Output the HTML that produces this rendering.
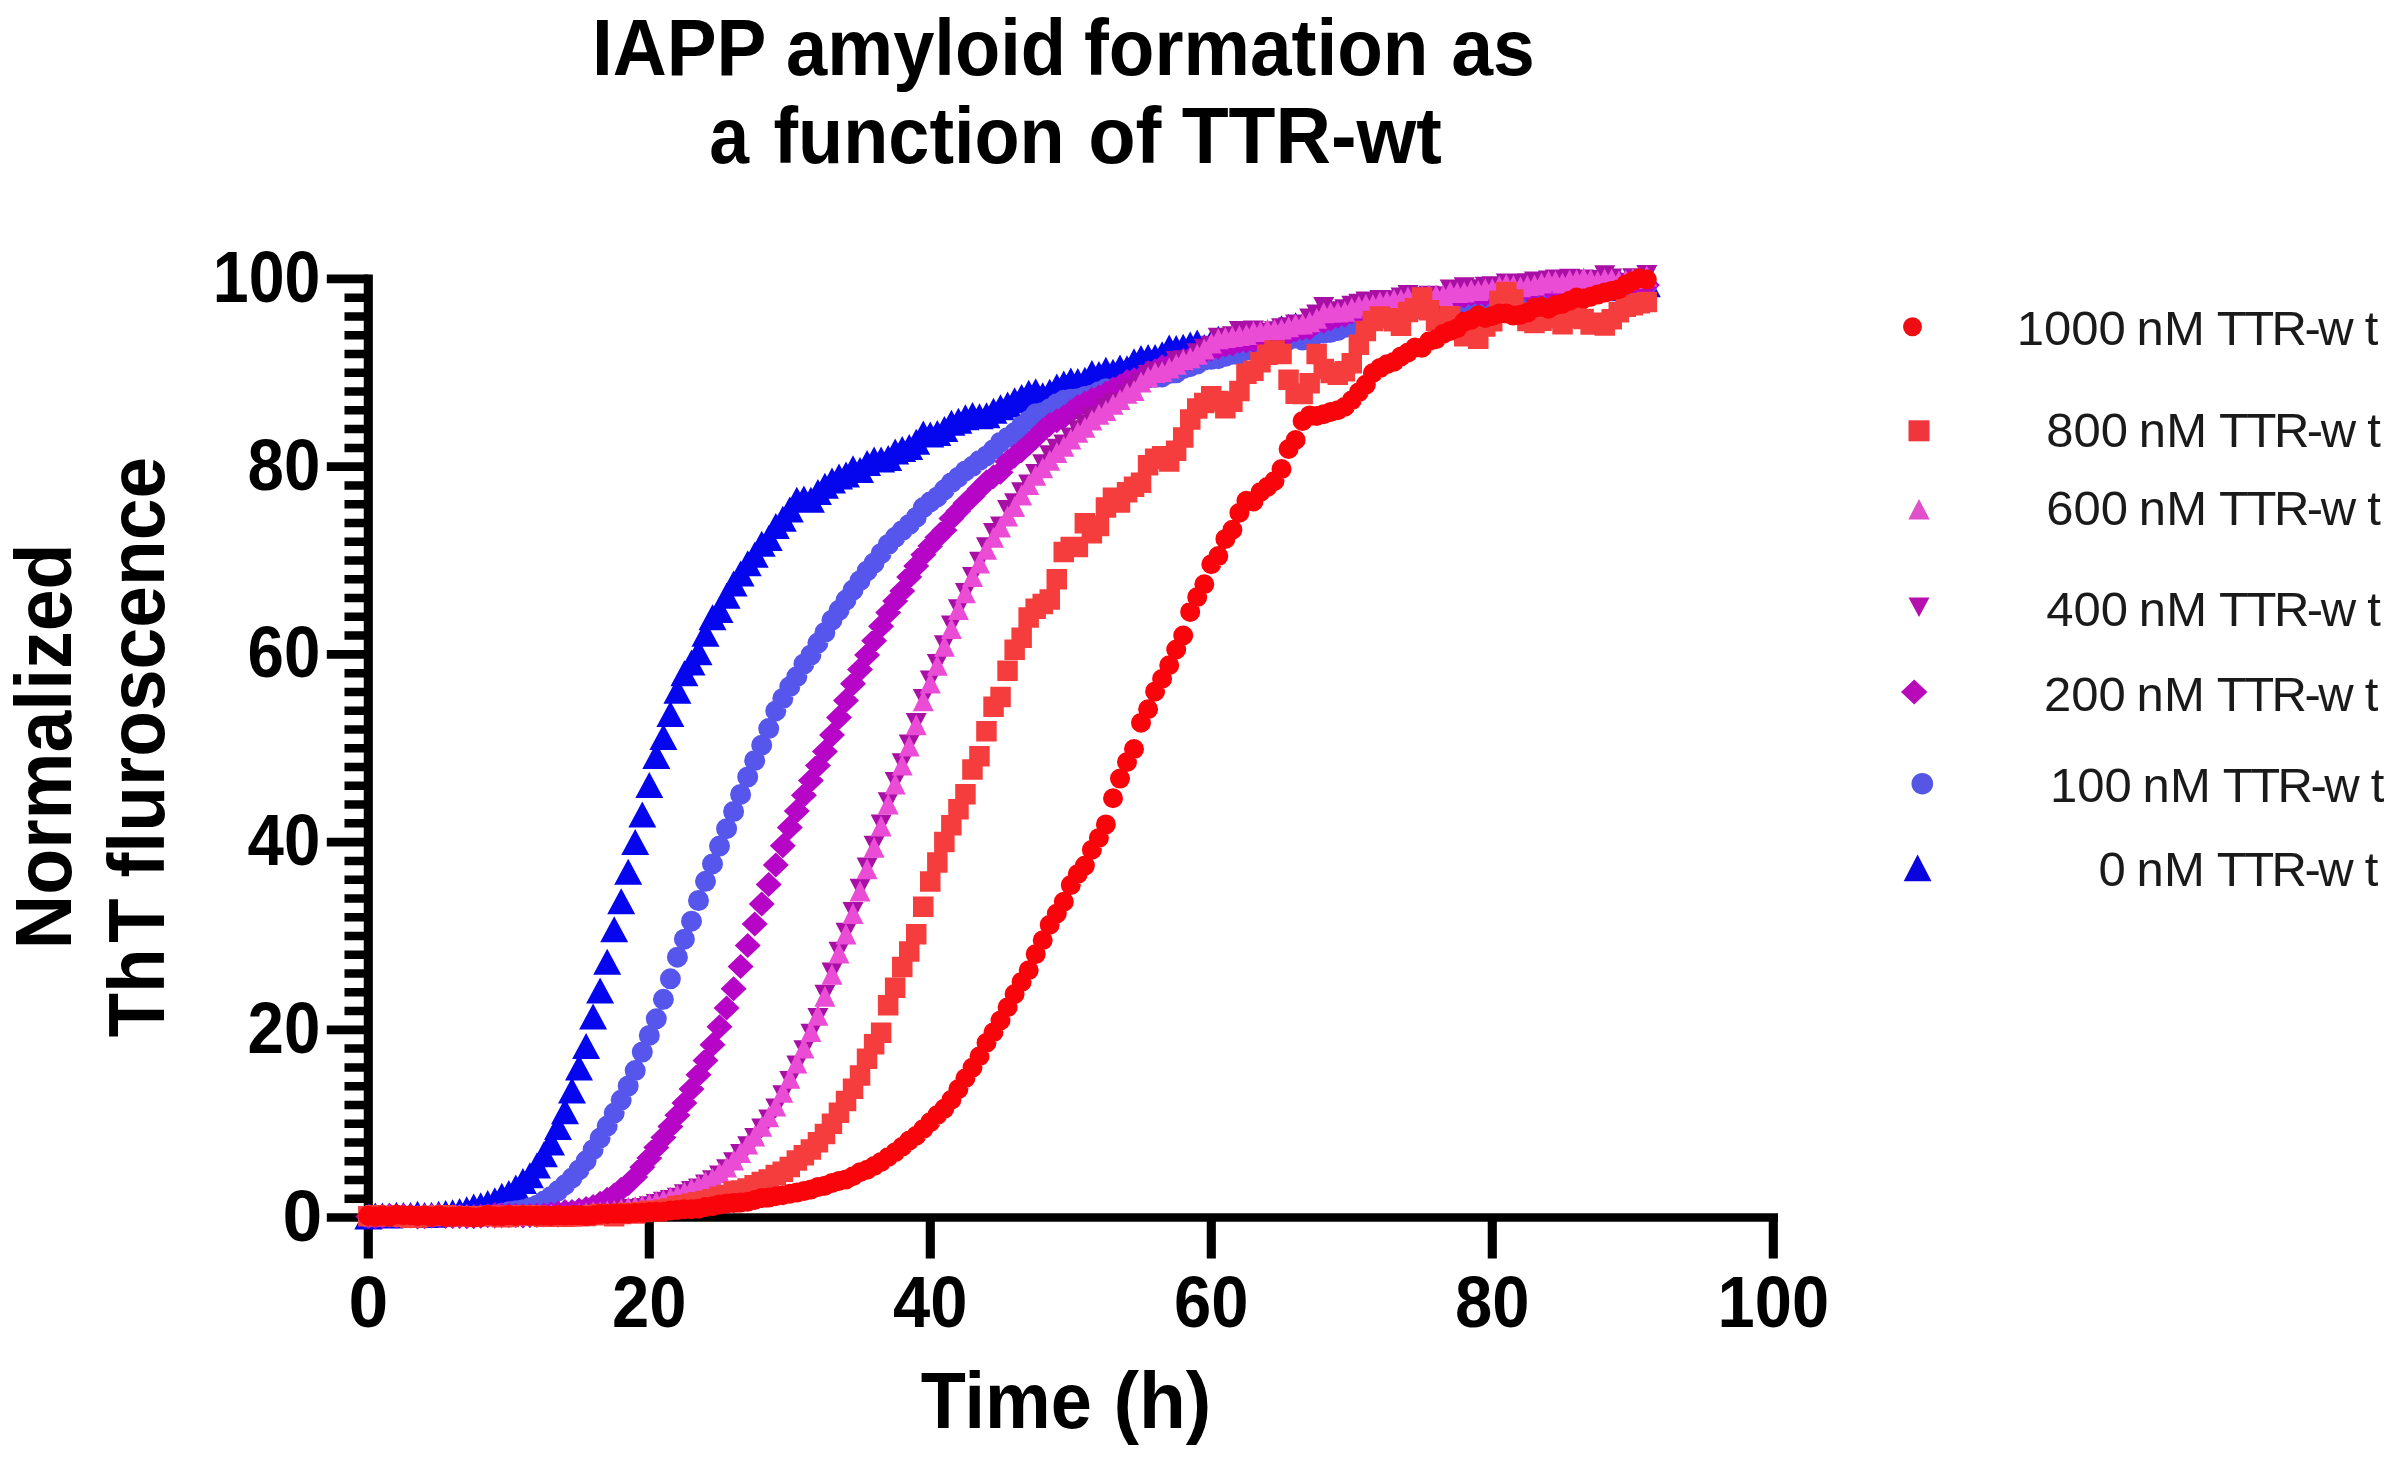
<!DOCTYPE html>
<html lang="en"><head><meta charset="utf-8"><title>IAPP amyloid formation as a function of TTR-wt</title>
<style>html,body{margin:0;padding:0;background:#fff}body{width:2404px;height:1459px;overflow:hidden}svg{display:block}text{font-family:"Liberation Sans",Arial,Helvetica,sans-serif}.b{font-weight:700;fill:#000}.l{fill:#1a1a1a}</style></head><body>
<svg width="2404" height="1459" viewBox="0 0 2404 1459">
<rect width="2404" height="1459" fill="#fff"/>
<g stroke="#000" stroke-width="9.1" fill="none" stroke-linecap="butt">
<path d="M368.3 274.6V1258.6"/>
<path stroke-width="8.5" d="M326.8 1217.6H1778"/>
<path stroke-width="8.6" d="M326.8 1029.9H368.3M326.8 842.1H368.3M326.8 654.4H368.3M326.8 466.6H368.3M326.8 278.9H368.3"/>
<path d="M649.3 1217.6V1258.6M930.3 1217.6V1258.6M1211.3 1217.6V1258.6M1492.3 1217.6V1258.6M1773.3 1217.6V1258.6"/>
<path stroke-width="8.5" d="M344.5 1198.8H368.3M344.5 1180.1H368.3M344.5 1161.3H368.3M344.5 1142.5H368.3M344.5 1123.7H368.3M344.5 1105H368.3M344.5 1086.2H368.3M344.5 1067.4H368.3M344.5 1048.6H368.3M344.5 1011.1H368.3M344.5 992.3H368.3M344.5 973.5H368.3M344.5 954.8H368.3M344.5 936H368.3M344.5 917.2H368.3M344.5 898.4H368.3M344.5 879.7H368.3M344.5 860.9H368.3M344.5 823.3H368.3M344.5 804.6H368.3M344.5 785.8H368.3M344.5 767H368.3M344.5 748.2H368.3M344.5 729.5H368.3M344.5 710.7H368.3M344.5 691.9H368.3M344.5 673.2H368.3M344.5 635.6H368.3M344.5 616.8H368.3M344.5 598.1H368.3M344.5 579.3H368.3M344.5 560.5H368.3M344.5 541.7H368.3M344.5 523H368.3M344.5 504.2H368.3M344.5 485.4H368.3M344.5 447.9H368.3M344.5 429.1H368.3M344.5 410.3H368.3M344.5 391.5H368.3M344.5 372.8H368.3M344.5 354H368.3M344.5 335.2H368.3M344.5 316.4H368.3M344.5 297.7H368.3"/>
</g>
<g stroke="none">
<path fill="#0505ee" d="M368.3 1203.4l14 26h-28zM375.3 1202.5l14 26h-28zM382.4 1202.4l14 26h-28zM389.4 1202.6l14 26h-28zM396.4 1201.8l14 26h-28zM403.4 1202l14 26h-28zM410.5 1201.9l14 26h-28zM417.5 1200.8l14 26h-28zM424.5 1201.9l14 26h-28zM431.5 1201.8l14 26h-28zM438.6 1200.7l14 26h-28zM445.6 1199.9l14 26h-28zM452.6 1199.3l14 26h-28zM459.6 1197.9l14 26h-28zM466.7 1196.3l14 26h-28zM473.7 1193.6l14 26h-28zM480.7 1192.3l14 26h-28zM487.7 1189.9l14 26h-28zM494.8 1187.2l14 26h-28zM501.8 1182.8l14 26h-28zM508.8 1180l14 26h-28zM515.8 1174.4l14 26h-28zM522.9 1168l14 26h-28zM529.9 1162.2l14 26h-28zM536.9 1152.6l14 26h-28zM543.9 1141.3l14 26h-28zM551 1129.5l14 26h-28zM558 1113.9l14 26h-28zM565 1098.3l14 26h-28zM572 1077.5l14 26h-28zM579 1054.4l14 26h-28zM586.1 1032.9l14 26h-28zM593.1 1003.4l14 26h-28zM600.1 977.4l14 26h-28zM607.2 948.8l14 26h-28zM614.2 916.3l14 26h-28zM621.2 888.3l14 26h-28zM628.2 858.8l14 26h-28zM635.2 829.1l14 26h-28zM642.3 801.4l14 26h-28zM649.3 771.9l14 26h-28zM656.3 742.9l14 26h-28zM663.4 724.1l14 26h-28zM670.4 701l14 26h-28zM677.4 677.8l14 26h-28zM684.4 660.2l14 26h-28zM691.5 649.6l14 26h-28zM698.5 639.2l14 26h-28zM705.5 620.7l14 26h-28zM712.5 604.2l14 26h-28zM719.5 596.9l14 26h-28zM726.6 582.7l14 26h-28zM733.6 570.6l14 26h-28zM740.6 560.4l14 26h-28zM747.7 550.3l14 26h-28zM754.7 541.7l14 26h-28zM761.7 530.8l14 26h-28zM768.7 525l14 26h-28zM775.8 512.9l14 26h-28zM782.8 505.8l14 26h-28zM789.8 496.5l14 26h-28zM796.8 486.7l14 26h-28zM803.9 485.4l14 26h-28zM810.9 486.7l14 26h-28zM817.9 478.9l14 26h-28zM824.9 472.7l14 26h-28zM832 467.5l14 26h-28zM839 463.6l14 26h-28zM846 461.4l14 26h-28zM853 455.3l14 26h-28zM860 457l14 26h-28zM867.1 450.1l14 26h-28zM874.1 446.4l14 26h-28zM881.1 446.5l14 26h-28zM888.2 444.9l14 26h-28zM895.2 438.4l14 26h-28zM902.2 435.9l14 26h-28zM909.2 434.1l14 26h-28zM916.2 428.8l14 26h-28zM923.3 420.6l14 26h-28zM930.3 421.6l14 26h-28zM937.3 420l14 26h-28zM944.4 416.1l14 26h-28zM951.4 409.7l14 26h-28zM958.4 407.7l14 26h-28zM965.4 404.2l14 26h-28zM972.5 402l14 26h-28zM979.5 403.3l14 26h-28zM986.5 402.2l14 26h-28zM993.5 397.8l14 26h-28zM1000.5 394.2l14 26h-28zM1007.6 391.6l14 26h-28zM1014.6 387.2l14 26h-28zM1021.6 383.9l14 26h-28zM1028.7 379.7l14 26h-28zM1035.7 378.3l14 26h-28zM1042.7 382.2l14 26h-28zM1049.7 378.7l14 26h-28zM1056.8 373.5l14 26h-28zM1063.8 370.5l14 26h-28zM1070.8 367.4l14 26h-28zM1077.8 368.1l14 26h-28zM1084.9 366.7l14 26h-28zM1091.9 359.9l14 26h-28zM1098.9 360.9l14 26h-28zM1105.9 356.7l14 26h-28zM1113 358.7l14 26h-28zM1120 354.4l14 26h-28zM1127 355.2l14 26h-28zM1134 348.3l14 26h-28zM1141 345l14 26h-28zM1148.1 343.9l14 26h-28zM1155.1 343.9l14 26h-28zM1162.1 341.2l14 26h-28zM1169.2 334.5l14 26h-28zM1176.2 335l14 26h-28zM1183.2 333.8l14 26h-28zM1190.2 331.5l14 26h-28zM1197.2 329.5l14 26h-28zM1204.3 334l14 26h-28zM1211.3 329.2l14 26h-28zM1218.3 325.7l14 26h-28zM1225.4 327.5l14 26h-28zM1232.4 325.8l14 26h-28zM1239.4 323.9l14 26h-28zM1246.4 324.6l14 26h-28zM1253.5 323.2l14 26h-28zM1260.5 321.6l14 26h-28zM1267.5 321.7l14 26h-28zM1274.5 319.2l14 26h-28zM1281.5 315.3l14 26h-28zM1288.6 313.9l14 26h-28zM1295.6 312.2l14 26h-28zM1302.6 312.6l14 26h-28zM1309.7 308.6l14 26h-28zM1316.7 304.7l14 26h-28zM1323.7 307.4l14 26h-28zM1330.7 303.7l14 26h-28zM1337.8 300.1l14 26h-28zM1344.8 303.9l14 26h-28zM1351.8 301.3l14 26h-28zM1358.8 302.6l14 26h-28zM1365.9 299.4l14 26h-28zM1372.9 296.1l14 26h-28zM1379.9 293.9l14 26h-28zM1386.9 294.1l14 26h-28zM1394 294l14 26h-28zM1401 291.8l14 26h-28zM1408 291.8l14 26h-28zM1415 287.9l14 26h-28zM1422 289.9l14 26h-28zM1429.1 285.3l14 26h-28zM1436.1 287.2l14 26h-28zM1443.1 289.3l14 26h-28zM1450.2 290.3l14 26h-28zM1457.2 291.5l14 26h-28zM1464.2 283.1l14 26h-28zM1471.2 285.8l14 26h-28zM1478.2 287.1l14 26h-28zM1485.3 286.4l14 26h-28zM1492.3 281l14 26h-28zM1499.3 282.1l14 26h-28zM1506.3 285.6l14 26h-28zM1513.4 277.9l14 26h-28zM1520.4 280l14 26h-28zM1527.4 281.8l14 26h-28zM1534.5 277.5l14 26h-28zM1541.5 279l14 26h-28zM1548.5 274.9l14 26h-28zM1555.5 274l14 26h-28zM1562.5 273.3l14 26h-28zM1569.6 275.3l14 26h-28zM1576.6 274.8l14 26h-28zM1583.6 276.9l14 26h-28zM1590.7 272.5l14 26h-28zM1597.7 272.8l14 26h-28zM1604.7 275.2l14 26h-28zM1611.7 274.6l14 26h-28zM1618.8 269.4l14 26h-28zM1625.8 272.5l14 26h-28zM1632.8 270.2l14 26h-28zM1639.8 271.4l14 26h-28zM1646.8 271.2l14 26h-28z"/>
<path fill="none" stroke="#5656ec" stroke-width="21" stroke-linecap="round" d="M368.3 1217.5h0M375.3 1217.3h0M382.4 1216.3h0M389.4 1216.1h0M396.4 1216.8h0M403.4 1216.7h0M410.5 1217.3h0M417.5 1217.2h0M424.5 1216.6h0M431.5 1217.1h0M438.6 1216.5h0M445.6 1215.6h0M452.6 1216.9h0M459.6 1215.7h0M466.7 1216.2h0M473.7 1216.5h0M480.7 1216.2h0M487.7 1215h0M494.8 1215h0M501.8 1213.3h0M508.8 1211.8h0M515.8 1210.8h0M522.9 1209.8h0M529.9 1207.7h0M536.9 1205.3h0M543.9 1201.1h0M551 1196.4h0M558 1190.8h0M565 1184.8h0M572 1178.1h0M579 1169.9h0M586.1 1160.8h0M593.1 1149.7h0M600.1 1138.1h0M607.2 1126.1h0M614.2 1113.1h0M621.2 1100.1h0M628.2 1086h0M635.2 1070.6h0M642.3 1052h0M649.3 1035.4h0M656.3 1018.8h0M663.4 999.3h0M670.4 978.8h0M677.4 957.2h0M684.4 939.2h0M691.5 921.2h0M698.5 900.5h0M705.5 881.3h0M712.5 863.9h0M719.5 846.1h0M726.6 828.7h0M733.6 811.5h0M740.6 794.4h0M747.7 777h0M754.7 760.5h0M761.7 745.2h0M768.7 728.6h0M775.8 710.9h0M782.8 698.5h0M789.8 686.7h0M796.8 676.7h0M803.9 664h0M810.9 655h0M817.9 643.1h0M824.9 632.4h0M832 620.2h0M839 610.3h0M846 600.1h0M853 590.1h0M860 580.7h0M867.1 570.9h0M874.1 563h0M881.1 553.5h0M888.2 544.5h0M895.2 537.3h0M902.2 530.7h0M909.2 524.5h0M916.2 517.4h0M923.3 507.6h0M930.3 501.8h0M937.3 496.9h0M944.4 489.8h0M951.4 482.7h0M958.4 477.2h0M965.4 470.9h0M972.5 466.3h0M979.5 460.4h0M986.5 455.9h0M993.5 449.7h0M1000.5 442.2h0M1007.6 437.4h0M1014.6 432.6h0M1021.6 426h0M1028.7 420.5h0M1035.7 413.8h0M1042.7 412.5h0M1049.7 408.7h0M1056.8 403.7h0M1063.8 400.3h0M1070.8 399.2h0M1077.8 398.7h0M1084.9 396.5h0M1091.9 395.1h0M1098.9 391.7h0M1105.9 388.7h0M1113 388.7h0M1120 387.2h0M1127 384.8h0M1134 384.1h0M1141 380.2h0M1148.1 377.8h0M1155.1 377.3h0M1162.1 376.9h0M1169.2 373.6h0M1176.2 372.8h0M1183.2 368.7h0M1190.2 366.7h0M1197.2 364.1h0M1204.3 360.2h0M1211.3 359.3h0M1218.3 358.7h0M1225.4 356.3h0M1232.4 354.3h0M1239.4 354h0M1246.4 350h0M1253.5 346.9h0M1260.5 345.5h0M1267.5 343.3h0M1274.5 344.3h0M1281.5 342.8h0M1288.6 339.9h0M1295.6 338h0M1302.6 340.1h0M1309.7 336.6h0M1316.7 333.9h0M1323.7 333.1h0M1330.7 332.3h0M1337.8 330.6h0M1344.8 327.6h0M1351.8 324.8h0M1358.8 324.2h0M1365.9 322.1h0M1372.9 318.2h0M1379.9 318.4h0M1386.9 317.1h0M1394 314.6h0M1401 312.6h0M1408 311.6h0M1415 309.5h0M1422 307h0M1429.1 307.1h0M1436.1 304.6h0M1443.1 304.9h0M1450.2 302.5h0M1457.2 302.3h0M1464.2 301.7h0M1471.2 303.1h0M1478.2 300.2h0M1485.3 297.9h0M1492.3 297.3h0M1499.3 296h0M1506.3 295.6h0M1513.4 296.2h0M1520.4 296.5h0M1527.4 297.3h0M1534.5 294.6h0M1541.5 296.8h0M1548.5 296.8h0M1555.5 294h0M1562.5 290h0M1569.6 290.2h0M1576.6 290.2h0M1583.6 287.3h0M1590.7 288.3h0M1597.7 288.3h0M1604.7 287.4h0M1611.7 288.3h0M1618.8 289h0M1625.8 287.5h0M1632.8 287.4h0M1639.8 286.2h0M1646.8 285.3h0"/>
<path fill="#b705c8" d="M368.3 1204l13 12.5l-13 12.5l-13 -12.5zM375.3 1204.2l13 12.5l-13 12.5l-13 -12.5zM382.4 1203.9l13 12.5l-13 12.5l-13 -12.5zM389.4 1203l13 12.5l-13 12.5l-13 -12.5zM396.4 1203.7l13 12.5l-13 12.5l-13 -12.5zM403.4 1203.2l13 12.5l-13 12.5l-13 -12.5zM410.5 1203.6l13 12.5l-13 12.5l-13 -12.5zM417.5 1204.6l13 12.5l-13 12.5l-13 -12.5zM424.5 1204.2l13 12.5l-13 12.5l-13 -12.5zM431.5 1203.6l13 12.5l-13 12.5l-13 -12.5zM438.6 1203.1l13 12.5l-13 12.5l-13 -12.5zM445.6 1204l13 12.5l-13 12.5l-13 -12.5zM452.6 1203.9l13 12.5l-13 12.5l-13 -12.5zM459.6 1204.1l13 12.5l-13 12.5l-13 -12.5zM466.7 1204.3l13 12.5l-13 12.5l-13 -12.5zM473.7 1204l13 12.5l-13 12.5l-13 -12.5zM480.7 1203.7l13 12.5l-13 12.5l-13 -12.5zM487.7 1203.3l13 12.5l-13 12.5l-13 -12.5zM494.8 1202.1l13 12.5l-13 12.5l-13 -12.5zM501.8 1202.2l13 12.5l-13 12.5l-13 -12.5zM508.8 1202.8l13 12.5l-13 12.5l-13 -12.5zM515.8 1203.1l13 12.5l-13 12.5l-13 -12.5zM522.9 1203.4l13 12.5l-13 12.5l-13 -12.5zM529.9 1203.1l13 12.5l-13 12.5l-13 -12.5zM536.9 1202.7l13 12.5l-13 12.5l-13 -12.5zM543.9 1202.4l13 12.5l-13 12.5l-13 -12.5zM551 1201.2l13 12.5l-13 12.5l-13 -12.5zM558 1200.5l13 12.5l-13 12.5l-13 -12.5zM565 1199.1l13 12.5l-13 12.5l-13 -12.5zM572 1198.9l13 12.5l-13 12.5l-13 -12.5zM579 1197.6l13 12.5l-13 12.5l-13 -12.5zM586.1 1196l13 12.5l-13 12.5l-13 -12.5zM593.1 1193.9l13 12.5l-13 12.5l-13 -12.5zM600.1 1190.7l13 12.5l-13 12.5l-13 -12.5zM607.2 1186.7l13 12.5l-13 12.5l-13 -12.5zM614.2 1182.6l13 12.5l-13 12.5l-13 -12.5zM621.2 1176.7l13 12.5l-13 12.5l-13 -12.5zM628.2 1171.2l13 12.5l-13 12.5l-13 -12.5zM635.2 1164.4l13 12.5l-13 12.5l-13 -12.5zM642.3 1154.7l13 12.5l-13 12.5l-13 -12.5zM649.3 1145.4l13 12.5l-13 12.5l-13 -12.5zM656.3 1134.9l13 12.5l-13 12.5l-13 -12.5zM663.4 1125.1l13 12.5l-13 12.5l-13 -12.5zM670.4 1114l13 12.5l-13 12.5l-13 -12.5zM677.4 1102.8l13 12.5l-13 12.5l-13 -12.5zM684.4 1090.5l13 12.5l-13 12.5l-13 -12.5zM691.5 1076.5l13 12.5l-13 12.5l-13 -12.5zM698.5 1062.3l13 12.5l-13 12.5l-13 -12.5zM705.5 1047.9l13 12.5l-13 12.5l-13 -12.5zM712.5 1032.2l13 12.5l-13 12.5l-13 -12.5zM719.5 1014.3l13 12.5l-13 12.5l-13 -12.5zM726.6 995.5l13 12.5l-13 12.5l-13 -12.5zM733.6 976.2l13 12.5l-13 12.5l-13 -12.5zM740.6 954.1l13 12.5l-13 12.5l-13 -12.5zM747.7 933.1l13 12.5l-13 12.5l-13 -12.5zM754.7 911.6l13 12.5l-13 12.5l-13 -12.5zM761.7 891.5l13 12.5l-13 12.5l-13 -12.5zM768.7 871.9l13 12.5l-13 12.5l-13 -12.5zM775.8 852.6l13 12.5l-13 12.5l-13 -12.5zM782.8 833.3l13 12.5l-13 12.5l-13 -12.5zM789.8 814.9l13 12.5l-13 12.5l-13 -12.5zM796.8 798.6l13 12.5l-13 12.5l-13 -12.5zM803.9 782.8l13 12.5l-13 12.5l-13 -12.5zM810.9 768.1l13 12.5l-13 12.5l-13 -12.5zM817.9 753.1l13 12.5l-13 12.5l-13 -12.5zM824.9 738.9l13 12.5l-13 12.5l-13 -12.5zM832 722.6l13 12.5l-13 12.5l-13 -12.5zM839 704.9l13 12.5l-13 12.5l-13 -12.5zM846 687.9l13 12.5l-13 12.5l-13 -12.5zM853 671.3l13 12.5l-13 12.5l-13 -12.5zM860 657.1l13 12.5l-13 12.5l-13 -12.5zM867.1 642.5l13 12.5l-13 12.5l-13 -12.5zM874.1 628.2l13 12.5l-13 12.5l-13 -12.5zM881.1 613.7l13 12.5l-13 12.5l-13 -12.5zM888.2 600l13 12.5l-13 12.5l-13 -12.5zM895.2 588.5l13 12.5l-13 12.5l-13 -12.5zM902.2 578.6l13 12.5l-13 12.5l-13 -12.5zM909.2 564.5l13 12.5l-13 12.5l-13 -12.5zM916.2 553.6l13 12.5l-13 12.5l-13 -12.5zM923.3 542.2l13 12.5l-13 12.5l-13 -12.5zM930.3 533.6l13 12.5l-13 12.5l-13 -12.5zM937.3 525l13 12.5l-13 12.5l-13 -12.5zM944.4 517.7l13 12.5l-13 12.5l-13 -12.5zM951.4 506l13 12.5l-13 12.5l-13 -12.5zM958.4 498.6l13 12.5l-13 12.5l-13 -12.5zM965.4 490.7l13 12.5l-13 12.5l-13 -12.5zM972.5 484l13 12.5l-13 12.5l-13 -12.5zM979.5 476.5l13 12.5l-13 12.5l-13 -12.5zM986.5 469.4l13 12.5l-13 12.5l-13 -12.5zM993.5 464.2l13 12.5l-13 12.5l-13 -12.5zM1000.5 459.8l13 12.5l-13 12.5l-13 -12.5zM1007.6 449.2l13 12.5l-13 12.5l-13 -12.5zM1014.6 443.4l13 12.5l-13 12.5l-13 -12.5zM1021.6 437.9l13 12.5l-13 12.5l-13 -12.5zM1028.7 431.5l13 12.5l-13 12.5l-13 -12.5zM1035.7 424.9l13 12.5l-13 12.5l-13 -12.5zM1042.7 417.8l13 12.5l-13 12.5l-13 -12.5zM1049.7 411.9l13 12.5l-13 12.5l-13 -12.5zM1056.8 408.3l13 12.5l-13 12.5l-13 -12.5zM1063.8 404.5l13 12.5l-13 12.5l-13 -12.5zM1070.8 399.3l13 12.5l-13 12.5l-13 -12.5zM1077.8 393.9l13 12.5l-13 12.5l-13 -12.5zM1084.9 390.5l13 12.5l-13 12.5l-13 -12.5zM1091.9 386.8l13 12.5l-13 12.5l-13 -12.5zM1098.9 384.2l13 12.5l-13 12.5l-13 -12.5zM1105.9 380.8l13 12.5l-13 12.5l-13 -12.5zM1113 376.5l13 12.5l-13 12.5l-13 -12.5zM1120 373.6l13 12.5l-13 12.5l-13 -12.5zM1127 368.9l13 12.5l-13 12.5l-13 -12.5zM1134 367.3l13 12.5l-13 12.5l-13 -12.5zM1141 365.4l13 12.5l-13 12.5l-13 -12.5zM1148.1 360.3l13 12.5l-13 12.5l-13 -12.5zM1155.1 358.3l13 12.5l-13 12.5l-13 -12.5zM1162.1 354.3l13 12.5l-13 12.5l-13 -12.5zM1169.2 353.4l13 12.5l-13 12.5l-13 -12.5zM1176.2 351.4l13 12.5l-13 12.5l-13 -12.5zM1183.2 347.9l13 12.5l-13 12.5l-13 -12.5zM1190.2 346.3l13 12.5l-13 12.5l-13 -12.5zM1197.2 342.6l13 12.5l-13 12.5l-13 -12.5zM1204.3 339.3l13 12.5l-13 12.5l-13 -12.5zM1211.3 336.7l13 12.5l-13 12.5l-13 -12.5zM1218.3 334.8l13 12.5l-13 12.5l-13 -12.5zM1225.4 332.7l13 12.5l-13 12.5l-13 -12.5zM1232.4 331.4l13 12.5l-13 12.5l-13 -12.5zM1239.4 329l13 12.5l-13 12.5l-13 -12.5zM1246.4 328.6l13 12.5l-13 12.5l-13 -12.5zM1253.5 328l13 12.5l-13 12.5l-13 -12.5zM1260.5 325.3l13 12.5l-13 12.5l-13 -12.5zM1267.5 322.4l13 12.5l-13 12.5l-13 -12.5zM1274.5 322.8l13 12.5l-13 12.5l-13 -12.5zM1281.5 322.9l13 12.5l-13 12.5l-13 -12.5zM1288.6 320.7l13 12.5l-13 12.5l-13 -12.5zM1295.6 317.4l13 12.5l-13 12.5l-13 -12.5zM1302.6 316.1l13 12.5l-13 12.5l-13 -12.5zM1309.7 315.5l13 12.5l-13 12.5l-13 -12.5zM1316.7 310.1l13 12.5l-13 12.5l-13 -12.5zM1323.7 308.9l13 12.5l-13 12.5l-13 -12.5zM1330.7 306.5l13 12.5l-13 12.5l-13 -12.5zM1337.8 303.7l13 12.5l-13 12.5l-13 -12.5zM1344.8 302.8l13 12.5l-13 12.5l-13 -12.5zM1351.8 299.6l13 12.5l-13 12.5l-13 -12.5zM1358.8 299.1l13 12.5l-13 12.5l-13 -12.5zM1365.9 299.4l13 12.5l-13 12.5l-13 -12.5zM1372.9 297.7l13 12.5l-13 12.5l-13 -12.5zM1379.9 295.2l13 12.5l-13 12.5l-13 -12.5zM1386.9 292.5l13 12.5l-13 12.5l-13 -12.5zM1394 291.2l13 12.5l-13 12.5l-13 -12.5zM1401 289.4l13 12.5l-13 12.5l-13 -12.5zM1408 291.9l13 12.5l-13 12.5l-13 -12.5zM1415 290.5l13 12.5l-13 12.5l-13 -12.5zM1422 288.4l13 12.5l-13 12.5l-13 -12.5zM1429.1 286.6l13 12.5l-13 12.5l-13 -12.5zM1436.1 285.5l13 12.5l-13 12.5l-13 -12.5zM1443.1 285.3l13 12.5l-13 12.5l-13 -12.5zM1450.2 283.6l13 12.5l-13 12.5l-13 -12.5zM1457.2 285.6l13 12.5l-13 12.5l-13 -12.5zM1464.2 283.4l13 12.5l-13 12.5l-13 -12.5zM1471.2 281.6l13 12.5l-13 12.5l-13 -12.5zM1478.2 281.4l13 12.5l-13 12.5l-13 -12.5zM1485.3 282.1l13 12.5l-13 12.5l-13 -12.5zM1492.3 281.7l13 12.5l-13 12.5l-13 -12.5zM1499.3 279.1l13 12.5l-13 12.5l-13 -12.5zM1506.3 278.4l13 12.5l-13 12.5l-13 -12.5zM1513.4 277.6l13 12.5l-13 12.5l-13 -12.5zM1520.4 277.5l13 12.5l-13 12.5l-13 -12.5zM1527.4 276.9l13 12.5l-13 12.5l-13 -12.5zM1534.5 275l13 12.5l-13 12.5l-13 -12.5zM1541.5 273.6l13 12.5l-13 12.5l-13 -12.5zM1548.5 274.3l13 12.5l-13 12.5l-13 -12.5zM1555.5 273l13 12.5l-13 12.5l-13 -12.5zM1562.5 275.1l13 12.5l-13 12.5l-13 -12.5zM1569.6 274.5l13 12.5l-13 12.5l-13 -12.5zM1576.6 272.9l13 12.5l-13 12.5l-13 -12.5zM1583.6 272.8l13 12.5l-13 12.5l-13 -12.5zM1590.7 272.5l13 12.5l-13 12.5l-13 -12.5zM1597.7 272.6l13 12.5l-13 12.5l-13 -12.5zM1604.7 273.9l13 12.5l-13 12.5l-13 -12.5zM1611.7 271.7l13 12.5l-13 12.5l-13 -12.5zM1618.8 270l13 12.5l-13 12.5l-13 -12.5zM1625.8 271.6l13 12.5l-13 12.5l-13 -12.5zM1632.8 271.8l13 12.5l-13 12.5l-13 -12.5zM1639.8 272.2l13 12.5l-13 12.5l-13 -12.5zM1646.8 272.6l13 12.5l-13 12.5l-13 -12.5z"/>
<path fill="#a80fa4" d="M368.3 1228l10.5 -20h-21zM375.3 1227.7l10.5 -20h-21zM382.4 1227.9l10.5 -20h-21zM389.4 1228.1l10.5 -20h-21zM396.4 1227.1l10.5 -20h-21zM403.4 1226.7l10.5 -20h-21zM410.5 1227.9l10.5 -20h-21zM417.5 1228l10.5 -20h-21zM424.5 1227.1l10.5 -20h-21zM431.5 1226l10.5 -20h-21zM438.6 1227.6l10.5 -20h-21zM445.6 1227.6l10.5 -20h-21zM452.6 1226.3l10.5 -20h-21zM459.6 1226.9l10.5 -20h-21zM466.7 1227l10.5 -20h-21zM473.7 1229.4l10.5 -20h-21zM480.7 1228.2l10.5 -20h-21zM487.7 1227.6l10.5 -20h-21zM494.8 1229l10.5 -20h-21zM501.8 1228.5l10.5 -20h-21zM508.8 1228l10.5 -20h-21zM515.8 1227.1l10.5 -20h-21zM522.9 1227.2l10.5 -20h-21zM529.9 1228.2l10.5 -20h-21zM536.9 1228l10.5 -20h-21zM543.9 1227.1l10.5 -20h-21zM551 1226.7l10.5 -20h-21zM558 1228.1l10.5 -20h-21zM565 1227.6l10.5 -20h-21zM572 1227.3l10.5 -20h-21zM579 1226.1l10.5 -20h-21zM586.1 1225.4l10.5 -20h-21zM593.1 1223.8l10.5 -20h-21zM600.1 1224.6l10.5 -20h-21zM607.2 1224.4l10.5 -20h-21zM614.2 1223l10.5 -20h-21zM621.2 1221.1l10.5 -20h-21zM628.2 1219.1l10.5 -20h-21zM635.2 1219l10.5 -20h-21zM642.3 1218l10.5 -20h-21zM649.3 1216.2l10.5 -20h-21zM656.3 1214.1l10.5 -20h-21zM663.4 1211.7l10.5 -20h-21zM670.4 1210l10.5 -20h-21zM677.4 1207.8l10.5 -20h-21zM684.4 1204.3l10.5 -20h-21zM691.5 1201l10.5 -20h-21zM698.5 1198.4l10.5 -20h-21zM705.5 1194.4l10.5 -20h-21zM712.5 1190.3l10.5 -20h-21zM719.5 1185.6l10.5 -20h-21zM726.6 1179.2l10.5 -20h-21zM733.6 1172.2l10.5 -20h-21zM740.6 1164l10.5 -20h-21zM747.7 1156.3l10.5 -20h-21zM754.7 1147.9l10.5 -20h-21zM761.7 1138.4l10.5 -20h-21zM768.7 1129.4l10.5 -20h-21zM775.8 1118.5l10.5 -20h-21zM782.8 1105.3l10.5 -20h-21zM789.8 1091l10.5 -20h-21zM796.8 1075.4l10.5 -20h-21zM803.9 1060.3l10.5 -20h-21zM810.9 1043.7l10.5 -20h-21zM817.9 1027.9l10.5 -20h-21zM824.9 1004.7l10.5 -20h-21zM832 982.6l10.5 -20h-21zM839 961.8l10.5 -20h-21zM846 942.7l10.5 -20h-21zM853 921.9l10.5 -20h-21zM860 898.8l10.5 -20h-21zM867.1 877.4l10.5 -20h-21zM874.1 855.8l10.5 -20h-21zM881.1 834.4l10.5 -20h-21zM888.2 812.3l10.5 -20h-21zM895.2 791.9l10.5 -20h-21zM902.2 773.3l10.5 -20h-21zM909.2 754.6l10.5 -20h-21zM916.2 733.1l10.5 -20h-21zM923.3 709.1l10.5 -20h-21zM930.3 690.4l10.5 -20h-21zM937.3 674.1l10.5 -20h-21zM944.4 655.3l10.5 -20h-21zM951.4 635.6l10.5 -20h-21zM958.4 619.3l10.5 -20h-21zM965.4 603.1l10.5 -20h-21zM972.5 587l10.5 -20h-21zM979.5 571.7l10.5 -20h-21zM986.5 557.3l10.5 -20h-21zM993.5 543.1l10.5 -20h-21zM1000.5 536.6l10.5 -20h-21zM1007.6 520.1l10.5 -20h-21zM1014.6 513.2l10.5 -20h-21zM1021.6 502.3l10.5 -20h-21zM1028.7 494.6l10.5 -20h-21zM1035.7 484.1l10.5 -20h-21zM1042.7 474.2l10.5 -20h-21zM1049.7 465.2l10.5 -20h-21zM1056.8 458.7l10.5 -20h-21zM1063.8 454.4l10.5 -20h-21zM1070.8 447.4l10.5 -20h-21zM1077.8 440.2l10.5 -20h-21zM1084.9 434.2l10.5 -20h-21zM1091.9 427.6l10.5 -20h-21zM1098.9 425.7l10.5 -20h-21zM1105.9 418l10.5 -20h-21zM1113 413.5l10.5 -20h-21zM1120 412.4l10.5 -20h-21zM1127 404.5l10.5 -20h-21zM1134 399.4l10.5 -20h-21zM1141 392.9l10.5 -20h-21zM1148.1 385l10.5 -20h-21zM1155.1 381.6l10.5 -20h-21zM1162.1 384.2l10.5 -20h-21zM1169.2 382.3l10.5 -20h-21zM1176.2 371.1l10.5 -20h-21zM1183.2 370.2l10.5 -20h-21zM1190.2 371.5l10.5 -20h-21zM1197.2 363.3l10.5 -20h-21zM1204.3 358.8l10.5 -20h-21zM1211.3 355.8l10.5 -20h-21zM1218.3 347.8l10.5 -20h-21zM1225.4 347.8l10.5 -20h-21zM1232.4 346.2l10.5 -20h-21zM1239.4 340.9l10.5 -20h-21zM1246.4 343.8l10.5 -20h-21zM1253.5 340.6l10.5 -20h-21zM1260.5 342.9l10.5 -20h-21zM1267.5 344l10.5 -20h-21zM1274.5 341.3l10.5 -20h-21zM1281.5 338.2l10.5 -20h-21zM1288.6 337.2l10.5 -20h-21zM1295.6 334.4l10.5 -20h-21zM1302.6 335.8l10.5 -20h-21zM1309.7 328.6l10.5 -20h-21zM1316.7 324.6l10.5 -20h-21zM1323.7 317.1l10.5 -20h-21zM1330.7 322.1l10.5 -20h-21zM1337.8 321.3l10.5 -20h-21zM1344.8 319.3l10.5 -20h-21zM1351.8 315.7l10.5 -20h-21zM1358.8 313.8l10.5 -20h-21zM1365.9 311.6l10.5 -20h-21zM1372.9 312.9l10.5 -20h-21zM1379.9 310.1l10.5 -20h-21zM1386.9 313.5l10.5 -20h-21zM1394 310.3l10.5 -20h-21zM1401 307.5l10.5 -20h-21zM1408 304.9l10.5 -20h-21zM1415 309.1l10.5 -20h-21zM1422 307l10.5 -20h-21zM1429.1 305.7l10.5 -20h-21zM1436.1 306.4l10.5 -20h-21zM1443.1 308.7l10.5 -20h-21zM1450.2 299.4l10.5 -20h-21zM1457.2 300.1l10.5 -20h-21zM1464.2 297.3l10.5 -20h-21zM1471.2 299.8l10.5 -20h-21zM1478.2 299.2l10.5 -20h-21zM1485.3 296.7l10.5 -20h-21zM1492.3 296.2l10.5 -20h-21zM1499.3 296.7l10.5 -20h-21zM1506.3 293.6l10.5 -20h-21zM1513.4 293.7l10.5 -20h-21zM1520.4 298.7l10.5 -20h-21zM1527.4 293.3l10.5 -20h-21zM1534.5 291.4l10.5 -20h-21zM1541.5 297.5l10.5 -20h-21zM1548.5 290.6l10.5 -20h-21zM1555.5 289.4l10.5 -20h-21zM1562.5 290.5l10.5 -20h-21zM1569.6 288.7l10.5 -20h-21zM1576.6 290.8l10.5 -20h-21zM1583.6 289.5l10.5 -20h-21zM1590.7 290.4l10.5 -20h-21zM1597.7 290l10.5 -20h-21zM1604.7 285.3l10.5 -20h-21zM1611.7 288.5l10.5 -20h-21zM1618.8 293.7l10.5 -20h-21zM1625.8 292.7l10.5 -20h-21zM1632.8 288.2l10.5 -20h-21zM1639.8 288.7l10.5 -20h-21zM1646.8 285.1l10.5 -20h-21z"/>
<path fill="#ea4cd6" d="M368.3 1204.7l10.5 21h-21zM375.3 1205l10.5 21h-21zM382.4 1204.5l10.5 21h-21zM389.4 1204.6l10.5 21h-21zM396.4 1204.3l10.5 21h-21zM403.4 1204l10.5 21h-21zM410.5 1204.6l10.5 21h-21zM417.5 1204.9l10.5 21h-21zM424.5 1204l10.5 21h-21zM431.5 1203.8l10.5 21h-21zM438.6 1204.4l10.5 21h-21zM445.6 1205l10.5 21h-21zM452.6 1204.5l10.5 21h-21zM459.6 1204.5l10.5 21h-21zM466.7 1204l10.5 21h-21zM473.7 1205.4l10.5 21h-21zM480.7 1205.2l10.5 21h-21zM487.7 1205.3l10.5 21h-21zM494.8 1205.2l10.5 21h-21zM501.8 1205.2l10.5 21h-21zM508.8 1205.1l10.5 21h-21zM515.8 1204.6l10.5 21h-21zM522.9 1204.8l10.5 21h-21zM529.9 1204.6l10.5 21h-21zM536.9 1205.1l10.5 21h-21zM543.9 1204.4l10.5 21h-21zM551 1204.1l10.5 21h-21zM558 1204.4l10.5 21h-21zM565 1204.8l10.5 21h-21zM572 1204.1l10.5 21h-21zM579 1203l10.5 21h-21zM586.1 1202.2l10.5 21h-21zM593.1 1201.3l10.5 21h-21zM600.1 1201.4l10.5 21h-21zM607.2 1200.6l10.5 21h-21zM614.2 1199.9l10.5 21h-21zM621.2 1198.5l10.5 21h-21zM628.2 1196.8l10.5 21h-21zM635.2 1196.1l10.5 21h-21zM642.3 1195.2l10.5 21h-21zM649.3 1193.4l10.5 21h-21zM656.3 1191.2l10.5 21h-21zM663.4 1189.5l10.5 21h-21zM670.4 1186.8l10.5 21h-21zM677.4 1184.6l10.5 21h-21zM684.4 1181.4l10.5 21h-21zM691.5 1177.9l10.5 21h-21zM698.5 1175l10.5 21h-21zM705.5 1171.3l10.5 21h-21zM712.5 1167.8l10.5 21h-21zM719.5 1162.2l10.5 21h-21zM726.6 1156.4l10.5 21h-21zM733.6 1149.6l10.5 21h-21zM740.6 1141.9l10.5 21h-21zM747.7 1133.5l10.5 21h-21zM754.7 1125.5l10.5 21h-21zM761.7 1115.8l10.5 21h-21zM768.7 1106.3l10.5 21h-21zM775.8 1095.4l10.5 21h-21zM782.8 1081.8l10.5 21h-21zM789.8 1067.8l10.5 21h-21zM796.8 1052.6l10.5 21h-21zM803.9 1037.6l10.5 21h-21zM810.9 1021.1l10.5 21h-21zM817.9 1004.7l10.5 21h-21zM824.9 985.7l10.5 21h-21zM832 963.8l10.5 21h-21zM839 942.5l10.5 21h-21zM846 923.6l10.5 21h-21zM853 903.1l10.5 21h-21zM860 880.6l10.5 21h-21zM867.1 858.3l10.5 21h-21zM874.1 836.7l10.5 21h-21zM881.1 815.4l10.5 21h-21zM888.2 793.5l10.5 21h-21zM895.2 773.4l10.5 21h-21zM902.2 754.6l10.5 21h-21zM909.2 735.5l10.5 21h-21zM916.2 714.2l10.5 21h-21zM923.3 690.2l10.5 21h-21zM930.3 672.5l10.5 21h-21zM937.3 654.7l10.5 21h-21zM944.4 635.8l10.5 21h-21zM951.4 618.1l10.5 21h-21zM958.4 599l10.5 21h-21zM965.4 582.2l10.5 21h-21zM972.5 565.9l10.5 21h-21zM979.5 552.5l10.5 21h-21zM986.5 538.7l10.5 21h-21zM993.5 526.8l10.5 21h-21zM1000.5 516.5l10.5 21h-21zM1007.6 505.5l10.5 21h-21zM1014.6 496l10.5 21h-21zM1021.6 484.4l10.5 21h-21zM1028.7 474l10.5 21h-21zM1035.7 464.8l10.5 21h-21zM1042.7 457.3l10.5 21h-21zM1049.7 449.7l10.5 21h-21zM1056.8 442.1l10.5 21h-21zM1063.8 435.7l10.5 21h-21zM1070.8 428.4l10.5 21h-21zM1077.8 421.7l10.5 21h-21zM1084.9 416.8l10.5 21h-21zM1091.9 409.4l10.5 21h-21zM1098.9 403.8l10.5 21h-21zM1105.9 400l10.5 21h-21zM1113 393.8l10.5 21h-21zM1120 389l10.5 21h-21zM1127 382.7l10.5 21h-21zM1134 380.1l10.5 21h-21zM1141 371.6l10.5 21h-21zM1148.1 366.4l10.5 21h-21zM1155.1 361.9l10.5 21h-21zM1162.1 361l10.5 21h-21zM1169.2 357.6l10.5 21h-21zM1176.2 353.8l10.5 21h-21zM1183.2 349.3l10.5 21h-21zM1190.2 347.2l10.5 21h-21zM1197.2 343.7l10.5 21h-21zM1204.3 338.4l10.5 21h-21zM1211.3 332.5l10.5 21h-21zM1218.3 328.3l10.5 21h-21zM1225.4 326.9l10.5 21h-21zM1232.4 326.1l10.5 21h-21zM1239.4 325.1l10.5 21h-21zM1246.4 323.9l10.5 21h-21zM1253.5 321l10.5 21h-21zM1260.5 321l10.5 21h-21zM1267.5 319.1l10.5 21h-21zM1274.5 318.9l10.5 21h-21zM1281.5 318.6l10.5 21h-21zM1288.6 316.3l10.5 21h-21zM1295.6 313.8l10.5 21h-21zM1302.6 313.5l10.5 21h-21zM1309.7 311.3l10.5 21h-21zM1316.7 307.7l10.5 21h-21zM1323.7 302.2l10.5 21h-21zM1330.7 301.8l10.5 21h-21zM1337.8 301.4l10.5 21h-21zM1344.8 300.7l10.5 21h-21zM1351.8 297.6l10.5 21h-21zM1358.8 295.4l10.5 21h-21zM1365.9 294l10.5 21h-21zM1372.9 294.1l10.5 21h-21zM1379.9 291.5l10.5 21h-21zM1386.9 290.8l10.5 21h-21zM1394 289.1l10.5 21h-21zM1401 289.1l10.5 21h-21zM1408 286.5l10.5 21h-21zM1415 286.9l10.5 21h-21zM1422 285.6l10.5 21h-21zM1429.1 284.8l10.5 21h-21zM1436.1 284.7l10.5 21h-21zM1443.1 284.9l10.5 21h-21zM1450.2 281.3l10.5 21h-21zM1457.2 282.1l10.5 21h-21zM1464.2 281.5l10.5 21h-21zM1471.2 279.6l10.5 21h-21zM1478.2 280l10.5 21h-21zM1485.3 278.3l10.5 21h-21zM1492.3 278.2l10.5 21h-21zM1499.3 275.6l10.5 21h-21zM1506.3 273.7l10.5 21h-21zM1513.4 274.9l10.5 21h-21zM1520.4 276.3l10.5 21h-21zM1527.4 275.1l10.5 21h-21zM1534.5 274.5l10.5 21h-21zM1541.5 272.6l10.5 21h-21zM1548.5 270.5l10.5 21h-21zM1555.5 270.5l10.5 21h-21zM1562.5 272.4l10.5 21h-21zM1569.6 269.4l10.5 21h-21zM1576.6 269.3l10.5 21h-21zM1583.6 267.6l10.5 21h-21zM1590.7 268.9l10.5 21h-21zM1597.7 270.4l10.5 21h-21zM1604.7 268.6l10.5 21h-21zM1611.7 268.6l10.5 21h-21zM1618.8 270.5l10.5 21h-21zM1625.8 269.7l10.5 21h-21zM1632.8 268l10.5 21h-21zM1639.8 267l10.5 21h-21zM1646.8 265.6l10.5 21h-21z"/>
<path fill="#f53d3d" d="M358.1 1206h20.5v20.5h-20.5zM365.1 1205.1h20.5v20.5h-20.5zM372.1 1205.7h20.5v20.5h-20.5zM379.1 1206.1h20.5v20.5h-20.5zM386.2 1205.9h20.5v20.5h-20.5zM393.2 1206.6h20.5v20.5h-20.5zM400.2 1207.6h20.5v20.5h-20.5zM407.2 1207.3h20.5v20.5h-20.5zM414.2 1206h20.5v20.5h-20.5zM421.3 1205.4h20.5v20.5h-20.5zM428.3 1205.4h20.5v20.5h-20.5zM435.3 1205.1h20.5v20.5h-20.5zM442.4 1205.8h20.5v20.5h-20.5zM449.4 1206.2h20.5v20.5h-20.5zM456.4 1206.1h20.5v20.5h-20.5zM463.4 1206.1h20.5v20.5h-20.5zM470.5 1206h20.5v20.5h-20.5zM477.5 1205.7h20.5v20.5h-20.5zM484.5 1205.2h20.5v20.5h-20.5zM491.5 1207h20.5v20.5h-20.5zM498.6 1206.8h20.5v20.5h-20.5zM505.6 1205.1h20.5v20.5h-20.5zM512.6 1204.9h20.5v20.5h-20.5zM519.6 1205h20.5v20.5h-20.5zM526.7 1205.5h20.5v20.5h-20.5zM533.7 1206.5h20.5v20.5h-20.5zM540.7 1206.4h20.5v20.5h-20.5zM547.7 1206.4h20.5v20.5h-20.5zM554.8 1206.4h20.5v20.5h-20.5zM561.8 1206.3h20.5v20.5h-20.5zM568.8 1206h20.5v20.5h-20.5zM575.8 1205.7h20.5v20.5h-20.5zM582.9 1205.1h20.5v20.5h-20.5zM589.9 1203.7h20.5v20.5h-20.5zM596.9 1204.6h20.5v20.5h-20.5zM603.9 1205.9h20.5v20.5h-20.5zM611 1203.7h20.5v20.5h-20.5zM618 1202.7h20.5v20.5h-20.5zM625 1203.2h20.5v20.5h-20.5zM632 1201.8h20.5v20.5h-20.5zM639 1200.5h20.5v20.5h-20.5zM646.1 1201.1h20.5v20.5h-20.5zM653.1 1199.4h20.5v20.5h-20.5zM660.1 1198.2h20.5v20.5h-20.5zM667.2 1195.7h20.5v20.5h-20.5zM674.2 1194.9h20.5v20.5h-20.5zM681.2 1193.4h20.5v20.5h-20.5zM688.2 1192.1h20.5v20.5h-20.5zM695.2 1190.8h20.5v20.5h-20.5zM702.3 1189.1h20.5v20.5h-20.5zM709.3 1186.5h20.5v20.5h-20.5zM716.3 1184.8h20.5v20.5h-20.5zM723.4 1181.3h20.5v20.5h-20.5zM730.4 1180.3h20.5v20.5h-20.5zM737.4 1178.2h20.5v20.5h-20.5zM744.4 1174.9h20.5v20.5h-20.5zM751.5 1171.8h20.5v20.5h-20.5zM758.5 1169.2h20.5v20.5h-20.5zM765.5 1164.7h20.5v20.5h-20.5zM772.5 1161.4h20.5v20.5h-20.5zM779.5 1156.7h20.5v20.5h-20.5zM786.6 1150.3h20.5v20.5h-20.5zM793.6 1145.1h20.5v20.5h-20.5zM800.6 1139.3h20.5v20.5h-20.5zM807.7 1132h20.5v20.5h-20.5zM814.7 1123.7h20.5v20.5h-20.5zM821.7 1113.4h20.5v20.5h-20.5zM828.7 1102.5h20.5v20.5h-20.5zM835.8 1090.7h20.5v20.5h-20.5zM842.8 1078.5h20.5v20.5h-20.5zM849.8 1065.3h20.5v20.5h-20.5zM856.8 1048.4h20.5v20.5h-20.5zM863.9 1033.9h20.5v20.5h-20.5zM870.9 1022.6h20.5v20.5h-20.5zM877.9 994.9h20.5v20.5h-20.5zM884.9 977.4h20.5v20.5h-20.5zM892 956.8h20.5v20.5h-20.5zM899 941.3h20.5v20.5h-20.5zM906 923.9h20.5v20.5h-20.5zM913 896.4h20.5v20.5h-20.5zM920 871.3h20.5v20.5h-20.5zM927.1 852.3h20.5v20.5h-20.5zM934.1 831.8h20.5v20.5h-20.5zM941.1 815h20.5v20.5h-20.5zM948.2 798.9h20.5v20.5h-20.5zM955.2 784.1h20.5v20.5h-20.5zM962.2 759.3h20.5v20.5h-20.5zM969.2 746.1h20.5v20.5h-20.5zM976.2 721.1h20.5v20.5h-20.5zM983.3 696.4h20.5v20.5h-20.5zM990.3 686.8h20.5v20.5h-20.5zM997.3 660.5h20.5v20.5h-20.5zM1004.4 639.5h20.5v20.5h-20.5zM1011.4 627.4h20.5v20.5h-20.5zM1018.4 607.3h20.5v20.5h-20.5zM1025.4 598.5h20.5v20.5h-20.5zM1032.5 593.8h20.5v20.5h-20.5zM1039.5 589.3h20.5v20.5h-20.5zM1046.5 569h20.5v20.5h-20.5zM1053.5 541.7h20.5v20.5h-20.5zM1060.5 536.7h20.5v20.5h-20.5zM1067.6 536.7h20.5v20.5h-20.5zM1074.6 513.1h20.5v20.5h-20.5zM1081.6 523.1h20.5v20.5h-20.5zM1088.7 515.8h20.5v20.5h-20.5zM1095.7 497.2h20.5v20.5h-20.5zM1102.7 487.4h20.5v20.5h-20.5zM1109.7 492.3h20.5v20.5h-20.5zM1116.8 481.9h20.5v20.5h-20.5zM1123.8 476.6h20.5v20.5h-20.5zM1130.8 472.4h20.5v20.5h-20.5zM1137.8 455h20.5v20.5h-20.5zM1144.9 448.4h20.5v20.5h-20.5zM1151.9 446h20.5v20.5h-20.5zM1158.9 451.3h20.5v20.5h-20.5zM1165.9 440.6h20.5v20.5h-20.5zM1173 427.2h20.5v20.5h-20.5zM1180 409.3h20.5v20.5h-20.5zM1187 398.2h20.5v20.5h-20.5zM1194 392.8h20.5v20.5h-20.5zM1201 386h20.5v20.5h-20.5zM1208.1 390.7h20.5v20.5h-20.5zM1215.1 397.9h20.5v20.5h-20.5zM1222.1 391.6h20.5v20.5h-20.5zM1229.2 380.8h20.5v20.5h-20.5zM1236.2 363.5h20.5v20.5h-20.5zM1243.2 360.4h20.5v20.5h-20.5zM1250.2 352h20.5v20.5h-20.5zM1257.2 344.4h20.5v20.5h-20.5zM1264.3 340.3h20.5v20.5h-20.5zM1271.3 343.7h20.5v20.5h-20.5zM1278.3 369.5h20.5v20.5h-20.5zM1285.4 383.4h20.5v20.5h-20.5zM1292.4 383.8h20.5v20.5h-20.5zM1299.4 373.1h20.5v20.5h-20.5zM1306.4 343.8h20.5v20.5h-20.5zM1313.5 358.7h20.5v20.5h-20.5zM1320.5 362.8h20.5v20.5h-20.5zM1327.5 364.5h20.5v20.5h-20.5zM1334.5 360.9h20.5v20.5h-20.5zM1341.5 352.9h20.5v20.5h-20.5zM1348.6 334.6h20.5v20.5h-20.5zM1355.6 320.7h20.5v20.5h-20.5zM1362.6 310.8h20.5v20.5h-20.5zM1369.7 306.2h20.5v20.5h-20.5zM1376.7 308.1h20.5v20.5h-20.5zM1383.7 311h20.5v20.5h-20.5zM1390.7 315.4h20.5v20.5h-20.5zM1397.8 301.8h20.5v20.5h-20.5zM1404.8 297.9h20.5v20.5h-20.5zM1411.8 287.2h20.5v20.5h-20.5zM1418.8 300h20.5v20.5h-20.5zM1425.8 310.5h20.5v20.5h-20.5zM1432.9 313.3h20.5v20.5h-20.5zM1439.9 306h20.5v20.5h-20.5zM1446.9 315.5h20.5v20.5h-20.5zM1454 326h20.5v20.5h-20.5zM1461 326h20.5v20.5h-20.5zM1468 328.4h20.5v20.5h-20.5zM1475 316.3h20.5v20.5h-20.5zM1482 311.1h20.5v20.5h-20.5zM1489.1 290.7h20.5v20.5h-20.5zM1496.1 281.7h20.5v20.5h-20.5zM1503.1 289.3h20.5v20.5h-20.5zM1510.2 302.4h20.5v20.5h-20.5zM1517.2 310.8h20.5v20.5h-20.5zM1524.2 312.7h20.5v20.5h-20.5zM1531.2 310.4h20.5v20.5h-20.5zM1538.2 306h20.5v20.5h-20.5zM1545.3 308.1h20.5v20.5h-20.5zM1552.3 313.9h20.5v20.5h-20.5zM1559.3 305h20.5v20.5h-20.5zM1566.3 307.4h20.5v20.5h-20.5zM1573.4 308.7h20.5v20.5h-20.5zM1580.4 314.3h20.5v20.5h-20.5zM1587.4 312.6h20.5v20.5h-20.5zM1594.5 315.3h20.5v20.5h-20.5zM1601.5 308.9h20.5v20.5h-20.5zM1608.5 302h20.5v20.5h-20.5zM1615.5 296.4h20.5v20.5h-20.5zM1622.5 294.9h20.5v20.5h-20.5zM1629.6 292.9h20.5v20.5h-20.5zM1636.6 291.8h20.5v20.5h-20.5z"/>
<path fill="none" stroke="#f8040a" stroke-width="20" stroke-linecap="round" d="M368.3 1215.8h0M375.3 1216.4h0M382.4 1215.4h0M389.4 1216.6h0M396.4 1214.6h0M403.4 1215.3h0M410.5 1215.2h0M417.5 1216.3h0M424.5 1215.4h0M431.5 1216.9h0M438.6 1215.5h0M445.6 1217h0M452.6 1216.7h0M459.6 1216.3h0M466.7 1216.4h0M473.7 1217.4h0M480.7 1217h0M487.7 1215.1h0M494.8 1216.3h0M501.8 1216.2h0M508.8 1215.1h0M515.8 1216h0M522.9 1215.2h0M529.9 1215.7h0M536.9 1215.8h0M543.9 1215.4h0M551 1215.9h0M558 1215.1h0M565 1215.5h0M572 1215.1h0M579 1215.1h0M586.1 1216.1h0M593.1 1215.3h0M600.1 1214.1h0M607.2 1214.1h0M614.2 1213.5h0M621.2 1213.6h0M628.2 1213.4h0M635.2 1213.1h0M642.3 1212.7h0M649.3 1211.9h0M656.3 1211.8h0M663.4 1211.8h0M670.4 1210.4h0M677.4 1209.9h0M684.4 1209.3h0M691.5 1209.3h0M698.5 1208.8h0M705.5 1207h0M712.5 1206.3h0M719.5 1204.5h0M726.6 1203.5h0M733.6 1203h0M740.6 1202.5h0M747.7 1201.7h0M754.7 1200h0M761.7 1198.1h0M768.7 1197.6h0M775.8 1196.2h0M782.8 1195.2h0M789.8 1193.8h0M796.8 1192.6h0M803.9 1191.1h0M810.9 1189.5h0M817.9 1187.1h0M824.9 1185.7h0M832 1183h0M839 1180.9h0M846 1179.4h0M853 1176.3h0M860 1172.2h0M867.1 1169.8h0M874.1 1166h0M881.1 1161.9h0M888.2 1157h0M895.2 1152.2h0M902.2 1146.7h0M909.2 1140.6h0M916.2 1135.8h0M923.3 1129h0M930.3 1122.1h0M937.3 1115h0M944.4 1108.6h0M951.4 1099.7h0M958.4 1089.1h0M965.4 1078.3h0M972.5 1067.6h0M979.5 1056.2h0M986.5 1042.8h0M993.5 1032.2h0M1000.5 1020.4h0M1007.6 1007.3h0M1014.6 994h0M1021.6 981.9h0M1028.7 970.3h0M1035.7 954.1h0M1042.7 940.3h0M1049.7 924.7h0M1056.8 913.5h0M1063.8 901.7h0M1070.8 885.1h0M1077.8 874h0M1084.9 865.6h0M1091.9 849.8h0M1098.9 837.9h0M1105.9 824.4h0M1113 798.2h0M1120 778.6h0M1127 762h0M1134 749.1h0M1141 722.7h0M1148.1 709.3h0M1155.1 691.4h0M1162.1 678.7h0M1169.2 665.2h0M1176.2 649.5h0M1183.2 635.5h0M1190.2 611.9h0M1197.2 597.1h0M1204.3 584.3h0M1211.3 564.3h0M1218.3 556.1h0M1225.4 538.9h0M1232.4 529.7h0M1239.4 512.8h0M1246.4 500.8h0M1253.5 501.4h0M1260.5 492h0M1267.5 486.8h0M1274.5 480.9h0M1281.5 469.1h0M1288.6 449h0M1295.6 440h0M1302.6 421h0M1309.7 415.4h0M1316.7 415.9h0M1323.7 414.3h0M1330.7 411.9h0M1337.8 410.2h0M1344.8 406.8h0M1351.8 400.2h0M1358.8 392.2h0M1365.9 384.6h0M1372.9 373h0M1379.9 368.1h0M1386.9 364.3h0M1394 361.8h0M1401 356.4h0M1408 352.5h0M1415 347.5h0M1422 347.7h0M1429.1 341.3h0M1436.1 339.2h0M1443.1 334h0M1450.2 331h0M1457.2 328.2h0M1464.2 321.8h0M1471.2 319.8h0M1478.2 315.3h0M1485.3 317.9h0M1492.3 316h0M1499.3 313.4h0M1506.3 313.4h0M1513.4 315.6h0M1520.4 314.8h0M1527.4 312.6h0M1534.5 307.8h0M1541.5 306.7h0M1548.5 308.7h0M1555.5 305.3h0M1562.5 303.7h0M1569.6 300.7h0M1576.6 297.6h0M1583.6 298.6h0M1590.7 296.8h0M1597.7 294.6h0M1604.7 292.6h0M1611.7 291h0M1618.8 289.2h0M1625.8 284.6h0M1632.8 281.2h0M1639.8 278.2h0M1646.8 279.6h0"/>
</g>
<text class="b" font-size="80" y="74.5"><tspan x="591.9" textLength="173.1" lengthAdjust="spacingAndGlyphs">IAPP</tspan> <tspan x="786.1" textLength="279.9" lengthAdjust="spacingAndGlyphs">amyloid</tspan> <tspan x="1084" textLength="344.4" lengthAdjust="spacingAndGlyphs">formation</tspan> <tspan x="1451.2" textLength="83.6" lengthAdjust="spacingAndGlyphs">as</tspan></text>
<text class="b" font-size="80" y="163.2"><tspan x="709.2" textLength="39.8" lengthAdjust="spacingAndGlyphs">a</tspan> <tspan x="773.5" textLength="291.2" lengthAdjust="spacingAndGlyphs">function</tspan> <tspan x="1088.2" textLength="73.3" lengthAdjust="spacingAndGlyphs">of</tspan> <tspan x="1181.7" textLength="260.1" lengthAdjust="spacingAndGlyphs">TTR-wt</tspan></text>
<text class="b" font-size="80" y="1428"><tspan x="920.8" textLength="170.9" lengthAdjust="spacingAndGlyphs">Time</tspan> <tspan x="1113.4" textLength="97.9" lengthAdjust="spacingAndGlyphs">(h)</tspan></text>
<text class="b" font-size="80" transform="translate(71.3 0) rotate(-90)" y="0"><tspan x="-949.2" textLength="405.8" lengthAdjust="spacingAndGlyphs">Normalized</tspan></text>
<text class="b" font-size="80" transform="translate(164 0) rotate(-90)" y="0"><tspan x="-1037.2" textLength="88.7" lengthAdjust="spacingAndGlyphs">Th</tspan><tspan x="-942.7" textLength="44.3" lengthAdjust="spacingAndGlyphs">T</tspan> <tspan x="-877.6" textLength="420.7" lengthAdjust="spacingAndGlyphs">fluroscence</tspan></text>
<text class="b" font-size="71.5" text-anchor="end" x="322.3" y="1240.5">0</text>
<text class="b" font-size="71.5" text-anchor="end" x="320.3" y="1052.8" textLength="72.8" lengthAdjust="spacingAndGlyphs">20</text>
<text class="b" font-size="71.5" text-anchor="end" x="320.3" y="865" textLength="72.8" lengthAdjust="spacingAndGlyphs">40</text>
<text class="b" font-size="71.5" text-anchor="end" x="320.3" y="677.3" textLength="72.8" lengthAdjust="spacingAndGlyphs">60</text>
<text class="b" font-size="71.5" text-anchor="end" x="320.3" y="489.5" textLength="72.8" lengthAdjust="spacingAndGlyphs">80</text>
<text class="b" font-size="71.5" text-anchor="end" x="320.3" y="301.8" textLength="107.5" lengthAdjust="spacingAndGlyphs">100</text>
<text class="b" font-size="71.5" text-anchor="middle" x="368.3" y="1327.2">0</text>
<text class="b" font-size="71.5" text-anchor="middle" x="649.3" y="1327.2" textLength="74.5" lengthAdjust="spacingAndGlyphs">20</text>
<text class="b" font-size="71.5" text-anchor="middle" x="930.3" y="1327.2" textLength="74.5" lengthAdjust="spacingAndGlyphs">40</text>
<text class="b" font-size="71.5" text-anchor="middle" x="1211.3" y="1327.2" textLength="74.5" lengthAdjust="spacingAndGlyphs">60</text>
<text class="b" font-size="71.5" text-anchor="middle" x="1492.3" y="1327.2" textLength="74.5" lengthAdjust="spacingAndGlyphs">80</text>
<text class="b" font-size="71.5" text-anchor="middle" x="1773.3" y="1327.2" textLength="111.5" lengthAdjust="spacingAndGlyphs">100</text>
<text class="l" font-size="49" y="344.8"><tspan x="2125.7" text-anchor="end">1000</tspan><tspan x="2122.8"> n</tspan><tspan x="2163.9">M</tspan><tspan x="2206.5" letter-spacing="-2.5"> TTR-w</tspan><tspan x="2364.8">t</tspan></text>
<circle cx="1912.5" cy="326.8" r="9.5" fill="#ee0d12"/>
<text class="l" font-size="49" y="446.7"><tspan x="2128.1" text-anchor="end">800</tspan><tspan x="2125.2"> n</tspan><tspan x="2166.3">M</tspan><tspan x="2208.9" letter-spacing="-2.5"> TTR-w</tspan><tspan x="2367.2">t</tspan></text>
<path fill="#f0353c" d="M1908.5 420.3h21v21h-21z"/>
<text class="l" font-size="49" y="524.7"><tspan x="2128.1" text-anchor="end">600</tspan><tspan x="2125.2"> n</tspan><tspan x="2166.3">M</tspan><tspan x="2208.9" letter-spacing="-2.5"> TTR-w</tspan><tspan x="2367.2">t</tspan></text>
<path fill="#e050ca" d="M1919 499l10.7 20.5h-21.4z"/>
<text class="l" font-size="49" y="626"><tspan x="2128.1" text-anchor="end">400</tspan><tspan x="2125.2"> n</tspan><tspan x="2166.3">M</tspan><tspan x="2208.9" letter-spacing="-2.5"> TTR-w</tspan><tspan x="2367.2">t</tspan></text>
<path fill="#b510ad" d="M1919 617.1l10.5 -19.7h-21z"/>
<text class="l" font-size="49" y="711.1"><tspan x="2125.7" text-anchor="end">200</tspan><tspan x="2122.8"> n</tspan><tspan x="2163.9">M</tspan><tspan x="2206.5" letter-spacing="-2.5"> TTR-w</tspan><tspan x="2364.8">t</tspan></text>
<path fill="#b80ab8" d="M1914.2 679.5l13.2 12.5l-13.2 12.5l-13.2 -12.5z"/>
<text class="l" font-size="49" y="802.3"><tspan x="2131.7" text-anchor="end">100</tspan><tspan x="2128.8"> n</tspan><tspan x="2169.9">M</tspan><tspan x="2212.5" letter-spacing="-2.5"> TTR-w</tspan><tspan x="2370.8">t</tspan></text>
<circle cx="1922.3" cy="783.7" r="10.8" fill="#5656e4"/>
<text class="l" font-size="49" y="886.3"><tspan x="2125.7" text-anchor="end">0</tspan><tspan x="2122.8"> n</tspan><tspan x="2163.9">M</tspan><tspan x="2206.5" letter-spacing="-2.5"> TTR-w</tspan><tspan x="2364.8">t</tspan></text>
<path fill="#0a05dc" d="M1917.6 854.6l13.9 26.7h-27.8z"/>
</svg></body></html>
